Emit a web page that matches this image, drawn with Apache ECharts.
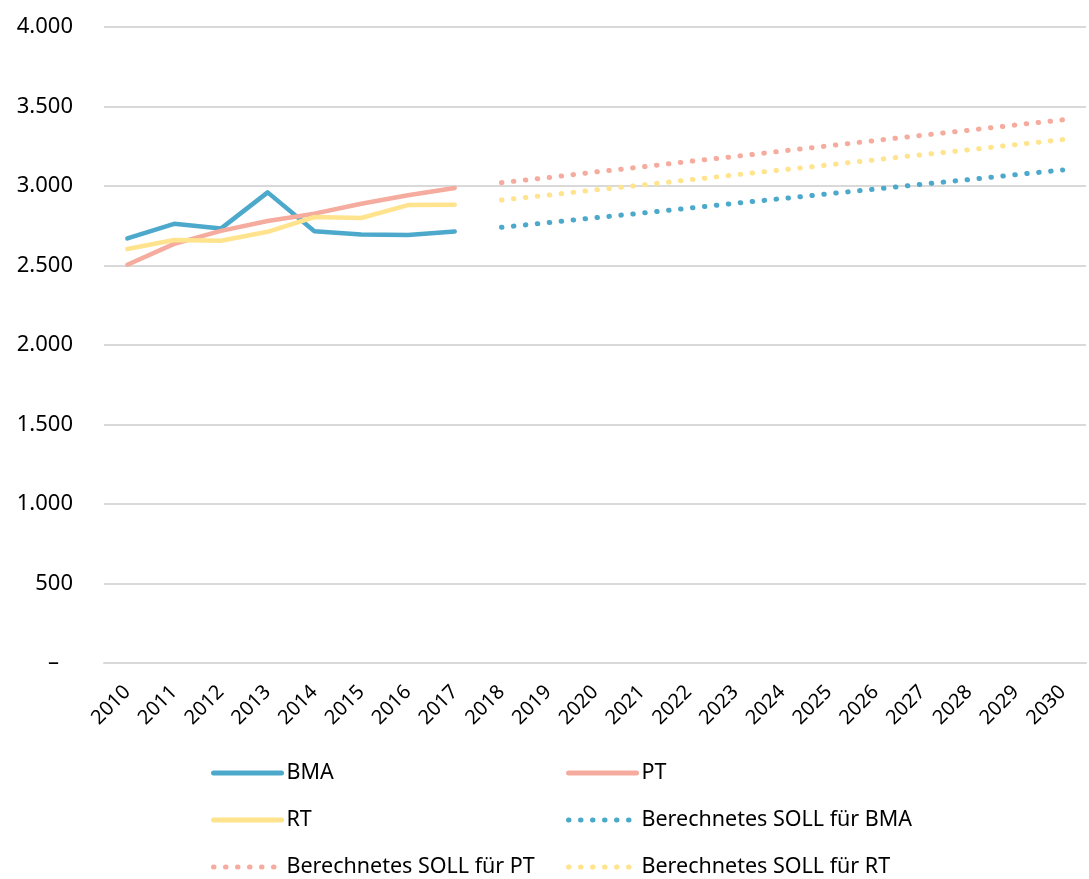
<!DOCTYPE html>
<html>
<head>
<meta charset="utf-8">
<script src="https://cdn.jsdelivr.net/npm/echarts@6/dist/echarts.min.js"></script>
<style>
  html, body { margin: 0; padding: 0; background: #fff; }
  #chart { width: 1089px; height: 879px; }
</style>
</head>
<body>
<div id="chart"></div>
<script>
// years on the x axis
const years = ['2010', '2011', '2012', '2013', '2014', '2015', '2016', '2017', '2018', '2019',
  '2020', '2021', '2022', '2023', '2024', '2025', '2026', '2027', '2028', '2029', '2030'];

// actual values 2010-2017
const bma = [2670, 2762, 2732, 2960, 2716, 2695, 2692, 2714];
const pt = [2505, 2636, 2718, 2780, 2826, 2888, 2942, 2988];
const rt = [2604, 2660, 2656, 2712, 2805, 2799, 2880, 2882];

// calculated targets 2018-2030
const sollBma = [2740, 2770, 2800, 2830, 2861, 2891, 2921, 2951, 2981, 3011, 3041, 3071, 3101];
const sollPt = [3021, 3053, 3088, 3120, 3154, 3186, 3220, 3253, 3286, 3319, 3351, 3384, 3416];
const sollRt = [2912, 2943, 2975, 3006, 3038, 3070, 3101, 3133, 3165, 3197, 3228, 3260, 3292];

const yTicks = { min: 0, max: 4000, interval: 500 };

const BLUE = '#4DA9CC', SALMON = '#F5AB9E', YELLOW = '#FFE38D';
const FONT = 'Noto Sans';

function actual(arr) {
  return years.map((y, i) => (i < arr.length ? arr[i] : null));
}
function target(arr) {
  const off = years.length - arr.length;
  return years.map((y, i) => (i >= off ? arr[i - off] : null));
}

const dots = [0.5, 11.5];

function lineSeries(name, data, color, dotted) {
  return {
    name: name,
    type: 'line',
    data: data,
    symbol: 'none',
    silent: true,
    lineStyle: {
      color: color,
      width: dotted ? 5 : 4.5,
      type: dotted ? dots : 'solid',
      cap: 'round',
      join: 'round'
    },
    itemStyle: { color: color }
  };
}

// one legend block per entry so the two columns line up like the original
function legendAt(name, color, dotted, left, top) {
  return {
    left: left,
    top: top,
    padding: 0,
    itemWidth: 68,
    itemHeight: 12,
    selectedMode: false,
    textStyle: { fontFamily: FONT, fontSize: 21.5, color: '#000', lineHeight: 24 },
    data: [{
      name: name,
      itemStyle: { opacity: 0 },
      lineStyle: { color: color, width: 5, type: dotted ? dots : 'solid', cap: 'round' }
    }]
  };
}

const chart = echarts.init(document.getElementById('chart'));
chart.setOption({
  animation: false,
  grid: { left: 104, right: 3, top: 27, bottom: 216, containLabel: false },
  xAxis: {
    type: 'category',
    data: years,
    boundaryGap: true,
    axisLine: { show: true, lineStyle: { color: '#d9d9d9', width: 2 } },
    axisTick: { show: false },
    axisLabel: { rotate: 45, margin: 26, fontFamily: FONT, fontSize: 20, color: '#000' }
  },
  yAxis: {
    type: 'value',
    min: yTicks.min,
    max: yTicks.max,
    interval: yTicks.interval,
    axisLine: { show: false },
    axisTick: { show: false },
    splitLine: { lineStyle: { color: '#d9d9d9', width: 2 } },
    axisLabel: {
      margin: 31,
      fontFamily: FONT,
      fontSize: 22,
      color: '#000',
      formatter: v => v === 0 ? '{d|–}' : v.toLocaleString('de-DE'),
      rich: { d: { fontFamily: FONT, fontSize: 22, color: '#000', padding: [0, 14, 0, 0] } }
    }
  },
  legend: [
    legendAt('BMA', BLUE, false, 211, 761),
    legendAt('PT', SALMON, false, 566, 761),
    legendAt('RT', YELLOW, false, 211, 808),
    legendAt('Berechnetes SOLL für BMA', BLUE, true, 566, 808),
    legendAt('Berechnetes SOLL für PT', SALMON, true, 211, 855),
    legendAt('Berechnetes SOLL für RT', YELLOW, true, 566, 855)
  ],
  series: [
    lineSeries('BMA', actual(bma), BLUE, false),
    lineSeries('PT', actual(pt), SALMON, false),
    lineSeries('RT', actual(rt), YELLOW, false),
    lineSeries('Berechnetes SOLL für BMA', target(sollBma), BLUE, true),
    lineSeries('Berechnetes SOLL für PT', target(sollPt), SALMON, true),
    lineSeries('Berechnetes SOLL für RT', target(sollRt), YELLOW, true)
  ]
});
</script>
</body>
</html>
